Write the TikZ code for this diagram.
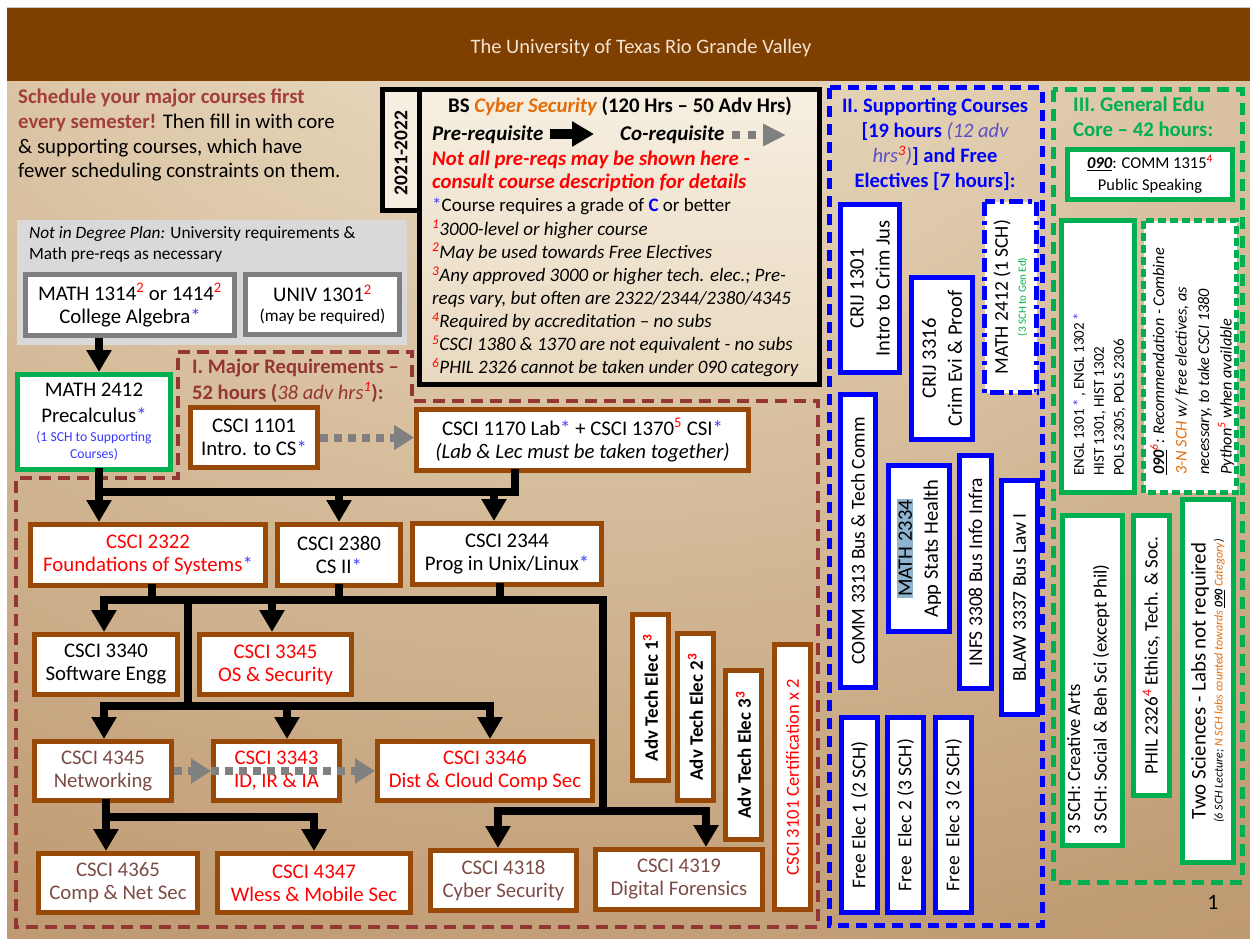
\documentclass[tikz,border=0pt]{standalone}
\usepackage{fontspec}
\setmainfont{Carlito}
\usetikzlibrary{arrows.meta}
\definecolor{hdr}{HTML}{7F3F00}
\definecolor{mred}{HTML}{943634}
\definecolor{sred}{HTML}{A23F3A}
\definecolor{cbrown}{HTML}{984807}
\definecolor{cgreen}{HTML}{00B050}
\definecolor{corange}{HTML}{E46C0A}
\definecolor{agray}{HTML}{808080}
\definecolor{ggray}{HTML}{7F7F7F}
\definecolor{lgray}{HTML}{D9D9D9}
\definecolor{tbrn}{HTML}{7D4B45}
\definecolor{ast}{HTML}{4040FF}
\definecolor{sblue}{HTML}{3A3AFF}
\definecolor{ital}{HTML}{5A4FC8}
\definecolor{hl}{HTML}{8FB4D0}
\definecolor{nbA}{HTML}{F6EFE1}
\definecolor{nbB}{HTML}{E9D9C0}
\definecolor{bgA}{HTML}{F2E9D8}
\definecolor{bgB}{HTML}{E0CCAE}
\definecolor{bgC}{HTML}{C09C74}
\definecolor{bgD}{HTML}{9C6C3E}
\definecolor{ttl}{HTML}{F3E3D3}
\pgfdeclareradialshading{bgsh}{\pgfpoint{-2bp}{43bp}}{color(0bp)=(bgA); color(20bp)=(bgB); color(50bp)=(bgC); color(105bp)=(bgD)}
\setlength{\fboxsep}{1.5pt}
\newcommand{\fsz}[2]{\fontsize{#1}{#2}\selectfont}
\newcommand{\rs}[1]{\textsuperscript{\color{red}#1}}
\newcommand{\bst}{\textcolor{ast}{*}}
\tikzset{
  conn/.style={line width=8pt, line cap=rect, line join=miter},
  pre/.style={line width=8pt, -{Triangle[width=24pt,length=22pt]}},
  co/.style={draw=agray, line width=8pt, dash pattern=on 8pt off 6pt, -{Triangle[width=24pt,length=20pt]}},
  cbox/.style={draw=cbrown, line width=5pt, fill=white, inner sep=0pt, align=center, font=\fsz{20.8}{23}},
  abox/.style={cbox, rotate=90, font=\bfseries\fsz{19}{23}},
  sbox/.style={draw=blue, line width=5pt, fill=white, inner sep=0pt, align=center, rotate=90, font=\fsz{19.5}{26}},
  ebox/.style={draw=cgreen, line width=5pt, fill=white, inner sep=0pt, align=center},
  txt/.style={inner sep=0pt, align=left},
}
\begin{document}
\begin{tikzpicture}[x=1pt,y=-1pt]
\useasboundingbox (0,0) rectangle (1250,939);
\fill[white] (0,0) rectangle (1250,939);
\draw[gray!45, line width=1pt] (7,7.5) -- (1250,7.5);
\fill[hdr] (7,8) rectangle (1250,82);
\shade[shading=bgsh] (7,82) rectangle (1250,939);
\node[font=\fsz{20.5}{24}, text=ttl] (title) at (641,48) {The University of Texas Rio Grande Valley};

% intro text
\node[txt, anchor=north west, font=\fsz{20.8}{24.7}] (sched) at (18,89) {{\bfseries\color{sred}Schedule your major courses first}\\{\bfseries\color{sred}every semester!} Then fill in with core\\\& supporting courses, which have\\fewer scheduling constraints on them.};

% not in degree plan
\fill[lgray] (17,220) rectangle (407,345);
\node[txt, anchor=north west, font=\fsz{17.3}{21}] (ndp) at (29,226) {\textit{Not in Degree Plan:} University requirements \&\\Math pre-reqs as necessary};
\node[cbox, draw=ggray, minimum width=209pt, minimum height=61pt] (m1314) at (130,305) {MATH 1314\rs{2} or 1414\rs{2}\\College Algebra\bst};
\node[cbox, draw=ggray, minimum width=154pt, minimum height=60pt] (u1301) at (322.5,304.5) {UNIV 1301\rs{2}\\[-3pt]{\fsz{17.3}{18}(may be required)}};

% major requirements region
\draw[mred, line width=4pt, dash pattern=on 12pt off 7pt] (178,352) -- (412,352) -- (412,401) -- (818,401) -- (818,927) -- (16,927) -- (16,478) -- (178,478) -- cycle;
\node[anchor=base west, inner sep=0pt, font=\bfseries\fsz{20.6}{22}, text=mred] (mrt1) at (192,373) {I. Major Requirements –};
\node[anchor=base west, inner sep=0pt, font=\bfseries\fsz{20.6}{22}, text=mred] (mrt2) at (192,399) {52 hours ({\mdseries\itshape 38 adv hrs\rs{1}}):};

% notes box
\node[draw, line width=5pt, top color=nbA, bottom color=nbB, minimum width=400pt, minimum height=295pt, inner sep=0pt] (notes) at (619.5,237) {};
\node[draw, line width=5pt, fill=nbA, minimum width=37pt, minimum height=121pt, inner sep=0pt] (yrtab) at (401,150) {};
\node[rotate=90, inner sep=0pt, font=\bfseries\fsz{19.5}{22}] (yr) at (401,153) {2021-2022};
\node[anchor=base, inner sep=0pt, font=\bfseries\fsz{20.8}{22}] (nh) at (620,113) {BS {\itshape\color{corange}Cyber Security} (120 Hrs – 50 Adv Hrs)};
\node[anchor=base west, inner sep=0pt, font=\bfseries\itshape\fsz{21}{22}] (prq) at (432,141) {Pre-requisite};
\node[anchor=base west, inner sep=0pt, font=\bfseries\itshape\fsz{21}{22}] (crq) at (620,141) {Co-requisite};
\coordinate (la1) at (550,134); \coordinate (la2) at (594,134);
\draw[pre, line width=10pt] (la1) -- (la2);
\coordinate (lb1) at (732,135); \coordinate (lb2) at (786,135);
\draw[co, dash pattern=on 8pt off 8pt, -{Triangle[width=21pt,length=23pt]}] (lb1) -- (lb2);
\node[txt, anchor=north west, font=\fsz{19}{23.1}] (nbody) at (432,151) {{\bfseries\itshape\fsz{20.8}{23.1}\color{red}Not all pre-reqs may be shown here -}\\
{\bfseries\itshape\fsz{20.8}{23.1}\color{red}consult course description for details}\\
\bst Course requires a grade of {\bfseries\color{blue}C} or better\\
\textit{\rs{1}3000-level or higher course}\\
\textit{\rs{2}May be used towards Free Electives}\\
\textit{\rs{3}Any approved 3000 or higher tech. elec.; Pre-}\\
\textit{reqs vary, but often are 2322/2344/2380/4345}\\
\textit{\rs{4}Required by accreditation – no subs}\\
\textit{\rs{5}CSCI 1380 \& 1370 are not equivalent - no subs}\\
\textit{\rs{6}PHIL 2326 cannot be taken under 090 category}};

% course boxes
\node[ebox, minimum width=153pt, minimum height=95pt, font=\fsz{20.8}{23}] (m2412) at (94,422) {MATH 2412\\[3pt]Precalculus\bst\\[-4pt]{\fsz{13.7}{15}\color{sblue}(1 SCH to Supporting}\\[-6pt]{\fsz{13.7}{15}\color{sblue}Courses)}};
\node[cbox, minimum width=127pt, minimum height=60pt] (m1101) at (254,437.5) {CSCI 1101\\Intro. to CS\bst};
\node[cbox, minimum width=332pt, minimum height=61pt] (m1170) at (582.5,440) {CSCI 1170 Lab\bst{} + CSCI 1370\rs{5}\ CSI\bst\\{\itshape (Lab \& Lec must be taken together)}};
\node[cbox, text=red, minimum width=235pt, minimum height=61pt] (m2322) at (148,555) {CSCI 2322\\Foundations of Systems\bst};
\node[cbox, minimum width=123pt, minimum height=61pt] (m2380) at (339,555) {CSCI 2380\\CS II\bst};
\node[cbox, minimum width=189pt, minimum height=61pt] (m2344) at (507,554) {CSCI 2344\\Prog in Unix/Linux\bst};
\node[cbox, minimum width=143pt, minimum height=60pt] (m3340) at (106,664.5) {CSCI 3340\\Software Engg};
\node[cbox, text=red, minimum width=152pt, minimum height=60pt] (m3345) at (275.5,664.5) {CSCI 3345\\OS \& Security};
\node[cbox, text=tbrn, minimum width=137pt, minimum height=59pt] (m4345) at (103,771) {CSCI 4345\\Networking};
\node[cbox, text=red, minimum width=126pt, minimum height=59pt] (m3343) at (276.5,771) {CSCI 3343\\ID, IR \& IA};
\node[cbox, text=red, minimum width=215pt, minimum height=59pt] (m3346) at (485,771) {CSCI 3346\\Dist \& Cloud Comp Sec};
\node[cbox, text=tbrn, minimum width=159pt, minimum height=59pt] (m4365) at (118,883) {CSCI 4365\\Comp \& Net Sec};
\node[cbox, text=red, minimum width=193pt, minimum height=59pt] (m4347) at (314,883) {CSCI 4347\\Wless \& Mobile Sec};
\node[cbox, text=tbrn, minimum width=146pt, minimum height=60pt] (m4318) at (503.5,880.5) {CSCI 4318\\Cyber Security};
\node[cbox, text=tbrn, minimum width=167pt, minimum height=60pt] (m4319) at (679,879.5) {CSCI 4319\\Digital Forensics};
\node[abox, minimum width=166pt, minimum height=36pt] (ate1) at (650.5,697.5) {Adv Tech Elec 1\rs{3}};
\node[abox, minimum width=167pt, minimum height=36pt] (ate2) at (695.5,717) {Adv Tech Elec 2\rs{3}};
\node[abox, minimum width=169pt, minimum height=36pt] (ate3) at (743.5,755) {Adv Tech Elec 3\rs{3}};
\node[abox, text=red, font=\fsz{18.5}{23}, minimum width=265pt, minimum height=36pt] (c3101) at (792.5,777) {CSCI 3101 Certification x 2};

% connectors
\coordinate (xa) at (99,0); \coordinate (x152) at (152,0); \coordinate (x339) at (339,0);
\coordinate (x494) at (494,0); \coordinate (x500) at (500,0); \coordinate (x515) at (515,0);
\coordinate (x603) at (603,0); \coordinate (x104) at (104,0); \coordinate (x188) at (188,0);
\coordinate (x272) at (272,0); \coordinate (x287) at (287,0); \coordinate (x490) at (490,0);
\coordinate (x106) at (106,0); \coordinate (x314) at (314,0); \coordinate (x498) at (498,0);
\coordinate (x706) at (706,0);
\coordinate (yb1) at (0,492); \coordinate (yb2) at (0,600); \coordinate (yb3) at (0,706);
\coordinate (yb4) at (0,811); \coordinate (yb5) at (0,817);

\draw[pre] (xa |- m1314.south) -- (xa |- m2412.north);
\draw[conn] (xa |- m2412.south) -- (xa |- yb1) -- (x515 |- yb1) -- (x515 |- m1170.south);
\draw[pre] (xa |- yb1) -- (xa |- m2322.north);
\draw[pre] (x339 |- yb1) -- (x339 |- m2380.north);
\draw[pre] (x494 |- yb1) -- (x494 |- m2344.north);

\draw[conn] (x152 |- m2322.south) -- (x152 |- yb2);
\draw[conn] (x339 |- m2380.south) -- (x339 |- yb2);
\draw[conn] (x500 |- m2344.south) -- (x500 |- yb2);
\draw[conn] (x104 |- yb2) -- (x603 |- yb2) -- (x603 |- yb4);
\draw[pre] (x104 |- yb2) -- (x104 |- m3340.north);
\draw[pre] (x272 |- yb2) -- (x272 |- m3345.north);
\draw[conn] (x188 |- yb2) -- (x188 |- yb3);
\draw[conn] (x104 |- yb3) -- (x490 |- yb3);
\draw[pre] (x104 |- yb3) -- (x104 |- m4345.north);
\draw[pre] (x287 |- yb3) -- (x287 |- m3343.north);
\draw[pre] (x490 |- yb3) -- (x490 |- m3346.north);

\draw[conn] (x106 |- m4345.south) -- (x106 |- yb5) -- (x314 |- yb5);
\draw[pre] (x106 |- yb5) -- (x106 |- m4365.north);
\draw[pre] (x314 |- yb5) -- (x314 |- m4347.north);

\draw[conn] (x498 |- yb4) -- (x706 |- yb4);
\draw[pre] (x498 |- yb4) -- (x498 |- m4318.north);
\draw[pre] (x706 |- yb4) -- (x706 |- m4319.north);

\draw[co] (m1101.east) -- (m1101.east -| m1170.west);
\draw[co] (m4345.east) -- (m3343.west);
\draw[co] (m3343.west) -- (m3346.west);

% supporting courses
\draw[blue, line width=5pt, dash pattern=on 11pt off 7pt] (829,88) rectangle (1042,925);
\node[anchor=north, align=center, inner sep=0pt, text=blue, font=\bfseries\fsz{20.5}{25}] (sct) at (935,98) {II. Supporting Courses\\{[}19 hours {\mdseries\itshape\color{ital}(12 adv}\\{\mdseries\itshape\color{ital}hrs\rs{3})}] and Free\\Electives [7 hours]:};
\node[sbox, font=\fsz{20.5}{26}, minimum width=168pt, minimum height=59pt] (crij1) at (870,288.5) {CRIJ 1301\\Intro to Crim Jus};
\node[sbox, font=\fsz{20.5}{26}, minimum width=162pt, minimum height=61pt] (crij3) at (942,358.5) {CRIJ 3316\\Crim Evi \& Proof};
\node[sbox, dash pattern=on 14pt off 5pt on 4pt off 5pt, minimum width=191pt, minimum height=52pt] (m2412s) at (1010.5,297) {MATH 2412 (1 SCH)\\[-8pt]{\fsz{11}{13}\color{cgreen}(3 SCH to Gen Ed)}};
\node[sbox, minimum width=293pt, minimum height=35pt] (comm) at (858,541) {COMM 3313 Bus \& Tech Comm};
\node[sbox, font=\fsz{20.5}{26}, minimum width=166pt, minimum height=61pt] (m2334) at (919,548.5) {\colorbox{hl}{MATH 2334}\\App Stats Health};
\node[sbox, minimum width=233pt, minimum height=32pt] (infs) at (975.5,572) {INFS 3308 Bus Info Infra};
\node[sbox, minimum width=234pt, minimum height=36pt] (blaw) at (1019.5,597.5) {BLAW 3337 Bus Law I};
\node[sbox, minimum width=195pt, minimum height=36pt] (fe1) at (859.5,815) {Free Elec 1 (2 SCH)};
\node[sbox, minimum width=195pt, minimum height=36pt] (fe2) at (905.5,815) {Free~ Elec 2 (3 SCH)};
\node[sbox, minimum width=195pt, minimum height=36pt] (fe3) at (953.5,815) {Free~ Elec 3 (2 SCH)};

% general education
\draw[cgreen, line width=5pt, dash pattern=on 12pt off 7pt] (1053,90) rectangle (1242,882);
\node[txt, anchor=north west, text=cgreen, font=\bfseries\fsz{20.8}{25}] (get) at (1073,97) {III. General Edu\\Core – 42 hours:};
\node[ebox, minimum width=165pt, minimum height=50pt, font=\fsz{16.5}{22}] (c1315) at (1150,174.5) {\underline{\textbf{\textit{090}}}: COMM 1315\rs{4}\\Public Speaking};
\node[ebox, rotate=90, minimum width=272pt, minimum height=73pt] (engl) at (1098,356.5) {};
\node[txt, rotate=90, anchor=north west, font=\fsz{15}{20}] (englt) at (1073,476) {ENGL 1301\,\bst\,, ENGL 1302\,\bst\\HIST 1301, HIST 1302\\POLS 2305, POLS 2306};
\node[ebox, rotate=90, dash pattern=on 8pt off 4pt, minimum width=272pt, minimum height=93pt] (rec) at (1190,356.5) {};
\node[txt, rotate=90, anchor=north west, font=\itshape\fsz{16.3}{22.5}] (rect) at (1150,475) {\underline{\textbf{090}}\rs{6}: Recommendation - Combine\\\textcolor{corange}{3-N SCH} w/ free electives, as\\necessary, to take CSCI 1380\\Python\rs{5} when available};
\node[ebox, rotate=90, minimum width=330pt, minimum height=60pt] (sch3) at (1092.5,680.5) {};
\node[txt, rotate=90, anchor=north west, font=\fsz{18.7}{26.5}] (sch3t) at (1067,835) {3 SCH: Creative Arts\\3 SCH: Social \& Beh Sci (except Phil)};
\node[ebox, rotate=90, font=\fsz{19}{22}, minimum width=280pt, minimum height=36pt] (phil) at (1151.5,655.5) {PHIL 2326\rs{4} Ethics, Tech. \& Soc.};
\node[ebox, rotate=90, font=\fsz{20.9}{25}, minimum width=363pt, minimum height=51pt] (sci) at (1208,681) {Two Sciences - Labs not required\\[-8pt]{\fsz{12}{13}\itshape (6 SCH Lecture; \textcolor{corange}{N SCH labs counted towards} \underline{\textbf{090}} \textcolor{corange}{Category})}};
\node[font=\fsz{22}{26}] (pg) at (1213,902) {1};
\end{tikzpicture}
\end{document}
